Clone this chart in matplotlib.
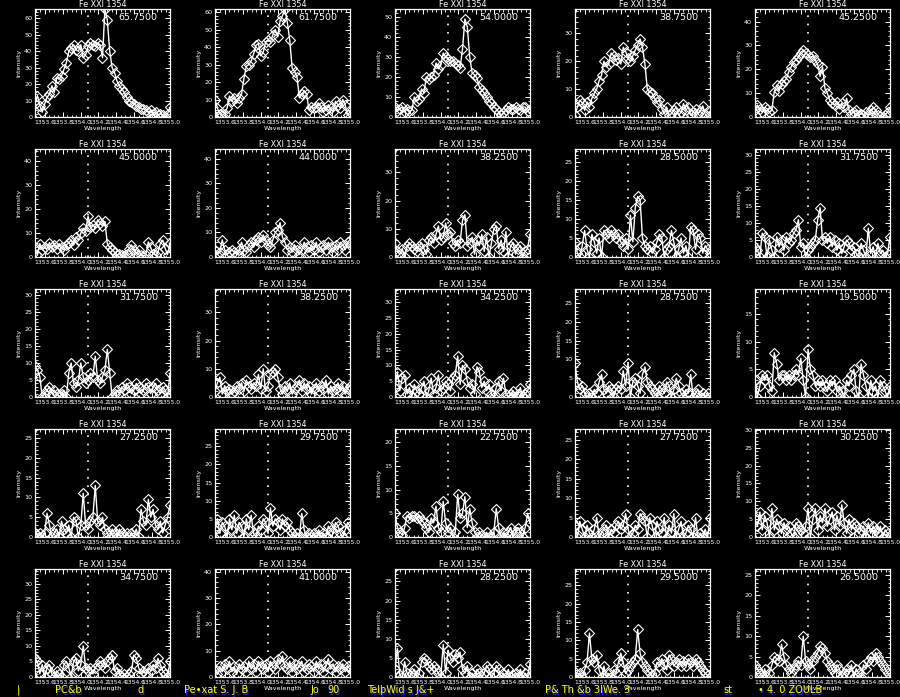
import matplotlib
matplotlib.use("Agg")
import matplotlib.pyplot as plt
import numpy as np
from matplotlib.ticker import MultipleLocator, AutoMinorLocator, FormatStrFormatter

# wavelength window of every panel (Angstrom) and the rest position of the line
WAVE_MIN = 1353.49
WAVE_MAX = 1355.0
LINE_CENTER = 1354.08
TITLE = "Fe XXI 1354"
XTICKS = [1353.6, 1353.8, 1354.0, 1354.2, 1354.4, 1354.6, 1354.8, 1355.0]

# y-axis maximum, printed in the corner of each panel (row by row)
ymax_row1 = [65.75, 61.75, 54.0, 38.75, 45.25]
ymax_row2 = [45.0, 44.0, 38.25, 28.5, 31.75]
ymax_row3 = [31.75, 38.25, 34.25, 28.75, 19.5]
ymax_row4 = [27.25, 29.75, 22.75, 27.75, 30.25]
ymax_row5 = [34.75, 41.0, 28.25, 29.5, 26.5]

# intensities, one list per panel
spec_r1c1 = [8, 13, 7, 3, 8, 12, 14, 19, 15, 24, 23, 25, 29, 33, 40, 42, 44, 41, 40, 44,
             36, 38, 43, 45, 44, 43, 45, 44, 36, 65.75, 59, 40, 30, 27, 22, 19, 17, 15, 12, 10,
             9, 8, 7, 6, 5, 5, 4, 3, 4, 2, 3, 1, 2, 1, 0, 2, 6]
spec_r1c2 = [10, 5, 2, 1, 2, 5, 12, 9, 11, 8, 11, 13, 22, 29, 30, 32, 36, 41, 42, 35,
             37, 43, 44, 43, 47, 50, 46, 55, 58, 61.75, 54, 44, 28, 26, 23, 11, 13, 15, 13, 4,
             6, 5, 6, 8, 6, 3, 4, 7, 5, 3, 9, 7, 5, 10, 7, 1, 3]
spec_r1c3 = [5, 3, 4, 5, 2.5, 4, 3, 3.5, 10, 8, 9, 14, 12, 20, 19, 20, 21, 27, 24, 26,
             32, 30, 29, 28, 28, 27, 26, 24.5, 34, 49, 45, 30, 22, 21, 19.5, 15, 13.5, 12, 10, 8,
             7, 5, 4, 2.5, 1, 2, 3.5, 5, 4, 4, 5, 4, 3.5, 5, 5, 3, 2]
spec_r1c4 = [0.6, 3.6, 6, 5, 2.4, 5.4, 3.6, 6.7, 8.5, 10, 13, 15, 20, 18, 19, 23, 22, 20.5, 21, 19,
             25, 23.5, 21, 20, 22, 24, 26, 28, 25, 19, 10, 9, 8.5, 6.7, 5.4, 6, 3, 1.2, 3.6, 0.6,
             1.2, 2.4, 3.6, 0.6, 1.8, 4.8, 2.4, 3.6, 0.6, 1.8, 3, 1.2, 2, 4, 1, 0, 2]
spec_r1c5 = [3, 5, 3.5, 2, 4, 3.5, 2, 3, 10.6, 13.4, 11, 14, 15, 16, 19, 21, 23, 24, 25, 27,
             28, 27, 26, 25, 25.5, 24, 22, 17, 21, 12, 10, 7, 5.7, 5, 6.4, 3.5, 5.7, 4, 7.8, 2.8,
             1.4, 2, 2.8, 0.7, 1.4, 0.7, 2, 0.7, 2.8, 4, 2.8, 1, 0.5, 0, 1, 2, 4]

spec_r2c1 = [4, 0.7, 5.6, 3, 4, 3.5, 6, 4, 5, 3.5, 5.6, 4, 3, 5, 6, 7, 5, 8.4, 7, 10,
             12, 11, 17, 12.7, 13.4, 12, 15.5, 14, 13, 14.8, 5.6, 4, 3, 2, 0.7, 1.4, 0.7, 0.3, 1.4, 3.5,
             5, 3, 1.4, 3, 0.7, 0.5, 1, 6.3, 4, 1.4, 0.7, 2, 5.6, 7, 3.5, 1, 6]
spec_r2c2 = [3, 1, 2, 7, 3, 1, 2, 3, 2, 1, 3, 6, 3, 2, 5, 6, 4, 7, 8, 6,
             9, 7, 5, 4, 7, 10, 11, 14, 8, 6, 3, 4, 2, 5, 3, 1, 3, 6, 4, 2,
             5, 3, 6, 2, 4, 5, 3, 6, 4, 2, 5, 3, 6, 5, 3, 6, 7]
spec_r2c3 = [5, 2, 1, 3, 0, 4, 5, 4, 3, 2, 4, 5, 3, 1, 6, 7, 5, 8, 11, 6,
             7, 12, 8, 9, 5, 4, 6, 5, 13, 15, 4, 5, 7, 1, 6, 4, 8, 2, 7, 0,
             5, 10, 11, 3, 6, 2, 9, 0, 4, 5, 1, 3, 4, 0, 2, 3, 8]
spec_r2c4 = [4, 1, 0, 3, 7, 2, 0, 6, 4, 1, 5, 0, 7, 6, 5, 7, 6, 5, 6, 4,
             3, 5, 2, 11, 4, 13, 16, 15, 5, 3, 2, 3, 1, 2, 4, 6, 5, 0, 2, 3,
             7, 4, 0, 2, 5, 1, 3, 0, 8, 7, 2, 6, 5, 1, 3, 2, 1]
spec_r2c5 = [3, 2, 0, 7, 6, 0, 5, 2, 0, 6, 3, 5, 2, 6, 4, 5, 7, 8, 11, 3,
             4, 0, 2, 3, 4, 5, 11, 14.5, 5, 6, 4, 6, 3, 5, 2, 4, 1, 3, 5, 4,
             2, 3, 1, 0, 4, 2, 0, 8.5, 1, 3, 0, 4, 1, 2, 0, 1, 6]

spec_r3c1 = [9, 8, 6, 0, 1, 2, 3, 1, 2, 1, 0, 1, 2, 0, 7, 10, 4, 3, 5, 10,
             6, 4, 5, 7, 6, 12, 5, 4, 6, 8, 14, 7, 0, 1, 2, 1, 3, 2, 4, 3,
             1, 2, 4, 3, 1, 2, 4, 3, 1, 3, 4, 2, 1, 3, 2, 0, 7]
spec_r3c2 = [2, 5, 7, 1, 4, 2, 3, 1, 2, 4, 3, 5, 2, 6, 4, 3, 5, 4, 8, 3,
             10, 2, 4, 8, 9, 10, 7, 3, 1, 4, 2, 5, 1, 3, 4, 6, 2, 5, 3, 4,
             1, 3, 5, 2, 4, 3, 6, 1, 4, 2, 3, 5, 2, 4, 1, 3, 4]
spec_r3c3 = [3, 8, 2, 6, 7, 1, 3, 0, 4, 2, 1, 3, 5, 0, 2, 6, 1, 3, 7, 2,
             3, 5, 4, 2, 6, 7, 13, 4, 10, 9, 5, 3, 4, 1, 9.6, 8, 3, 5, 2, 4,
             1, 0, 3, 5, 2, 6, 1, 0, 1, 2, 0, 1, 3, 0, 1, 2, 4]
spec_r3c4 = [9, 4, 2, 3, 1, 0, 1, 0, 2, 1, 4, 6, 2, 1, 3, 2, 0, 2, 3, 2,
             7, 3, 9, 0, 4, 5, 3, 1, 6, 8, 4, 3, 2, 1, 0, 3, 2, 1, 4, 3,
             0, 2, 5, 3, 1, 0, 2, 1, 6, 0, 1, 2, 0, 1, 0, 1, 0]
spec_r3c5 = [3, 0, 2, 4, 3, 4, 2, 1, 8, 6, 3, 4, 4, 3, 4, 3, 4, 5, 4, 7,
             3, 0, 8.6, 5, 4, 2, 3, 2, 3, 2, 1, 3, 2, 3, 1, 2, 1, 0, 3, 2,
             4, 5, 1, 0, 6, 4, 2, 0, 3, 1, 2, 0, 3, 2, 1, 0, 2]

spec_r4c1 = [1, 0.5, 1, 0, 1, 6, 3, 0, 1, 2, 0, 4, 2, 1, 3, 0, 5, 4, 0, 3,
             11, 3, 2, 4, 5, 13, 4, 3, 5, 2, 1, 0, 2, 1, 0, 2, 1, 0, 1, 0,
             1, 0, 2, 0, 7, 4, 3, 9.5, 5, 7, 3, 2, 4, 1, 3, 5, 8]
spec_r4c2 = [2, 5, 1, 4, 3, 0, 5, 2, 6, 1, 4, 3, 0, 5, 2, 6, 1, 0, 3, 2,
             5, 4, 1, 8, 3, 5, 4, 2, 5, 3, 4, 2, 1, 0, 1, 0, 6.5, 2, 0, 1,
             0, 1, 0, 2, 0, 1, 0, 3, 2, 1, 4, 3, 1, 0, 2, 4, 3]
spec_r4c3 = [5, 2, 1, 0.5, 2, 4.5, 4, 4.5, 4.5, 4, 4.5, 3.5, 3, 2, 1, 4, 3, 6.5, 2, 1,
             7.5, 3, 1, 2, 0, 1, 9, 4, 5, 8.5, 2, 6, 3, 1, 0, 1, 0.5, 0, 1, 0,
             0, 1, 6, 2, 0, 1, 0, 1, 2, 0, 1, 2, 1, 0, 2, 5, 3]
spec_r4c4 = [3, 0, 4, 2, 0, 3, 1, 0, 2, 5, 0, 1, 2, 3, 0, 2, 1, 3, 4, 2,
             3, 6, 2, 0, 1, 3, 2, 6, 5, 4, 0, 5, 3, 0, 4, 2, 1, 5, 0, 3,
             1, 6, 0, 2, 4, 0, 1, 3, 2, 0, 5, 0, 1, 0, 2, 0, 5]
spec_r4c5 = [5, 3, 7, 2, 6, 4, 0, 8, 2, 5, 3, 1, 4, 2, 3, 1, 0, 4, 3, 2,
             1, 3, 8, 0, 5, 8, 2, 6, 4, 8, 3, 5, 7, 2, 6, 3, 9, 4, 1, 5,
             2, 4, 3, 1, 2, 3, 0, 4, 1, 3, 2, 1, 3, 0, 2, 1, 0]

spec_r5c1 = [6, 5, 1, 4, 0, 3, 4, 1, 0, 2, 1, 0, 4, 5, 3, 0, 5, 6, 2, 4,
             10, 3, 2, 3, 1, 3, 4, 5, 4, 3, 5, 6, 7, 2, 3, 1, 0, 1, 0, 1,
             2, 7, 6, 3, 1, 2, 1, 3, 2, 4, 3, 6, 4, 2, 1, 0, 5]
spec_r5c2 = [3, 1, 4, 2, 5, 3, 6, 2, 4, 1, 5, 3, 4, 2, 6, 3, 5, 2, 6, 4,
             3, 5, 2, 6, 4, 3, 7, 5, 8, 4, 3, 6, 2, 5, 3, 4, 6, 2, 3, 5,
             4, 2, 6, 3, 5, 2, 4, 7, 3, 5, 2, 4, 3, 5, 2, 4, 3]
spec_r5c3 = [2, 7.5, 0.5, 0, 4, 1, 0, 1, 2, 0, 1, 4, 5, 4.5, 3, 2, 3, 2, 1, 0,
             8.5, 1, 7, 5, 4, 6, 5, 6.5, 2, 1, 3, 0, 1, 0, 2, 1, 0, 1, 3, 2,
             0, 1, 3, 2, 0, 1, 0, 2, 0, 0.5, 1, 0, 2, 0, 1, 0, 3.5]
spec_r5c4 = [1.5, 0, 1, 0, 2, 4, 12, 5, 4, 6, 2, 0, 3, 0, 1, 0, 2, 1, 4, 6.5,
             4, 1, 2, 3, 4, 5, 13, 6.5, 4, 3, 2, 1, 0, 1, 4, 3, 5, 3.5, 2, 6,
             5, 3, 4, 5, 3, 4.5, 3, 5, 4, 3, 5, 4, 3, 2, 1, 0.5, 0]
spec_r5c5 = [3, 2, 1, 0, 2, 0, 1, 3, 5, 4.5, 4, 8, 5, 3, 2, 1, 2, 3, 4, 3,
             10, 4, 3, 2, 4, 5, 6, 7.5, 7, 6, 4, 3, 2, 1, 3, 2, 0, 1, 2, 1,
             3, 0, 2, 1, 0, 3, 2, 4, 5, 4, 6, 5, 4, 3, 2, 1, 0]

spectra = [
    [spec_r1c1, spec_r1c2, spec_r1c3, spec_r1c4, spec_r1c5],
    [spec_r2c1, spec_r2c2, spec_r2c3, spec_r2c4, spec_r2c5],
    [spec_r3c1, spec_r3c2, spec_r3c3, spec_r3c4, spec_r3c5],
    [spec_r4c1, spec_r4c2, spec_r4c3, spec_r4c4, spec_r4c5],
    [spec_r5c1, spec_r5c2, spec_r5c3, spec_r5c4, spec_r5c5],
]
ymaxes = [ymax_row1, ymax_row2, ymax_row3, ymax_row4, ymax_row5]

# stray overplotted text along the bottom edge of the window
junk_text = ["|", "PC&b", "d", "Pe\u2022xat S. J. B", "Jo", "90",
             "Tel\u00feWid s J&+", "P& Th &b 3lWe. 3", "st", "\u2022 4. 0 ZOULB"]

W, H = 900, 697
fig = plt.figure(figsize=(W / 100, H / 100), dpi=100, facecolor="black")

for r in range(5):
    for c in range(5):
        vals = np.asarray(spectra[r][c], dtype=float)
        ymax = ymaxes[r][c]
        wave = np.linspace(WAVE_MIN, WAVE_MAX, len(vals))

        ax = fig.add_axes([(35 + 180 * c) / W, 1 - (117 + 140 * r) / H, 135 / W, 108 / H])
        ax.set_facecolor("black")
        ax.plot(wave, vals, color="white", lw=1.0, marker="D", ms=5.2,
                mfc="none", mec="white", mew=0.8)
        ax.axvline(LINE_CENTER, color="white", lw=1.2, linestyle=(0, (1, 4)))

        ax.set_xlim(WAVE_MIN, WAVE_MAX)
        ax.set_ylim(0, ymax)
        ax.set_xticks(XTICKS)
        ax.xaxis.set_major_formatter(FormatStrFormatter("%.1f"))
        ax.xaxis.set_minor_locator(MultipleLocator(0.05))
        ax.yaxis.set_major_locator(MultipleLocator(10 if ymax > 35 else 5))
        ax.yaxis.set_minor_locator(AutoMinorLocator(5))

        for sp in ax.spines.values():
            sp.set_color("white")
            sp.set_linewidth(0.9)
        ax.tick_params(which="both", direction="in", top=True, right=True,
                       colors="white", labelsize=4.6, pad=2)
        ax.tick_params(axis="x", labelsize=4.3)
        ax.tick_params(which="major", length=3.5, width=0.7)
        ax.tick_params(which="minor", length=1.8, width=0.6)

        ax.set_title(TITLE, color="white", fontsize=5.8, pad=1.5)
        ax.set_xlabel("Wavelength", color="white", fontsize=4.6, labelpad=1)
        ax.set_ylabel("Intensity", color="white", fontsize=4.6, labelpad=2)
        ax.text(0.91, 0.925, f"{ymax:.4f}", transform=ax.transAxes, ha="right",
                va="center", fontsize=6.8, color="white")

# the yellow/blue scribble at the very bottom
xs = [17, 55, 138, 184, 310, 327, 367, 545, 723, 758]
for x, s in zip(xs, junk_text):
    fig.text(x / W + 0.001, 1 - 691 / H - 0.001, s, color="#2020ff", fontsize=7,
             va="center", ha="left")
    fig.text(x / W, 1 - 690 / H, s, color="#ffff00", fontsize=7,
             va="center", ha="left")

fig.savefig("out.png", dpi=100, facecolor="black")
